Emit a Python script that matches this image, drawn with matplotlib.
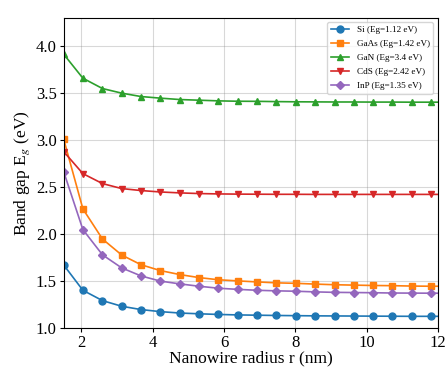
import matplotlib
matplotlib.use("Agg")
import matplotlib.pyplot as plt

# marker positions (nm), plus the line end at 12 nm
radius = [1.50, 2.04, 2.59, 3.13, 3.67, 4.21, 4.76, 5.30, 5.84, 6.38,
          6.93, 7.47, 8.01, 8.55, 9.10, 9.64, 10.18, 10.72, 11.27, 11.81, 12.0]

si = [1.67, 1.40, 1.29, 1.23, 1.195, 1.173, 1.158, 1.150, 1.143, 1.138,
      1.135, 1.132, 1.130, 1.128, 1.127, 1.126, 1.125, 1.124, 1.123, 1.123, 1.123]
gaas = [3.01, 2.266, 1.945, 1.775, 1.672, 1.610, 1.567, 1.535, 1.512, 1.500,
        1.489, 1.479, 1.474, 1.466, 1.459, 1.455, 1.451, 1.449, 1.445, 1.443, 1.443]
gan = [3.912, 3.656, 3.546, 3.497, 3.461, 3.444, 3.429, 3.422, 3.415, 3.411,
       3.410, 3.407, 3.405, 3.404, 3.403, 3.403, 3.402, 3.402, 3.401, 3.401, 3.401]
cds = [2.876, 2.641, 2.535, 2.482, 2.461, 2.446, 2.436, 2.429, 2.425, 2.423,
       2.422, 2.421, 2.421, 2.420, 2.420, 2.420, 2.420, 2.420, 2.420, 2.420, 2.420]
inp = [2.663, 2.046, 1.777, 1.638, 1.553, 1.498, 1.468, 1.443, 1.422, 1.410,
       1.400, 1.394, 1.390, 1.383, 1.378, 1.376, 1.374, 1.371, 1.370, 1.369, 1.369]

series = [
    ("Si (Eg=1.12 eV)", si, "o"),
    ("GaAs (Eg=1.42 eV)", gaas, "s"),
    ("GaN (Eg=3.4 eV)", gan, "^"),
    ("CdS (Eg=2.42 eV)", cds, "v"),
    ("InP (Eg=1.35 eV)", inp, "D"),
]

plt.rcParams["font.family"] = ["Liberation Serif", "DejaVu Serif"]
plt.rcParams["mathtext.fontset"] = "stix"

fig, ax = plt.subplots(figsize=(4.45, 3.68), dpi=100)
fig.subplots_adjust(left=0.143, right=0.984, bottom=0.109, top=0.952)

for label, values, marker in series:
    ms = 4.5 if marker == "D" else 5
    ax.plot(radius, values, marker=marker, markersize=ms, linewidth=1.2,
            markevery=slice(0, len(radius) - 1), label=label)

ax.set_xlim(1.5, 12)
ax.set_ylim(1.0, 4.3)
ax.set_xticks([2, 4, 6, 8, 10, 12])
ax.set_yticks([1.0, 1.5, 2.0, 2.5, 3.0, 3.5, 4.0])
ax.tick_params(labelsize=12, length=3, pad=2)
ax.set_xlabel("Nanowire radius r (nm)", fontsize=12.5, labelpad=0)
ax.set_ylabel("Band gap E$_g$ (eV)", fontsize=12.5, labelpad=3)
ax.grid(True, alpha=0.3, color="gray")
ax.legend(loc="upper right", fontsize=6.6, labelspacing=0.6,
          handlelength=2.0, framealpha=0.8)

fig.savefig("out.png", dpi=100)
plt.close(fig)
